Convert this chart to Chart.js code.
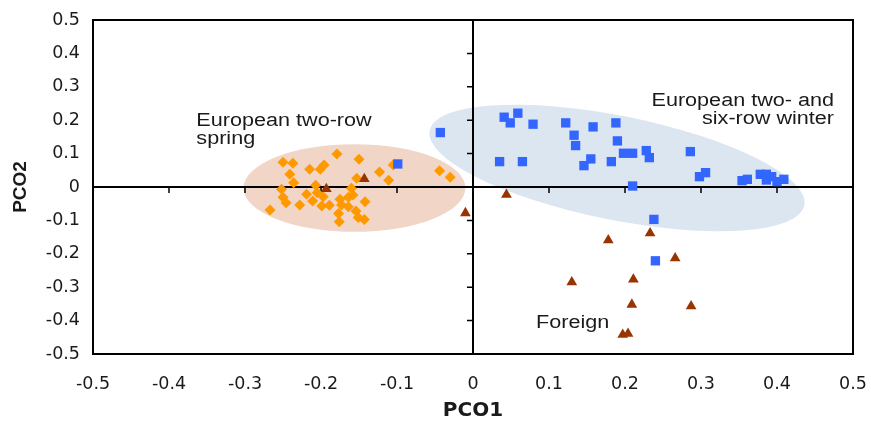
<!DOCTYPE html>
<html>
<head>
<meta charset="utf-8">
<script src="https://cdn.jsdelivr.net/npm/chart.js@4.4.0/dist/chart.umd.min.js"></script>
<style>html,body{margin:0;padding:0;background:#fff}</style>
</head>
<body>
<canvas id="c" width="871" height="421"></canvas>
<script>
// ---- data ----
const xTickLabels = ['-0.5','-0.4','-0.3','-0.2','-0.1','0','0.1','0.2','0.3','0.4','0.5'];
const yTickLabels = ['-0.5','-0.4','-0.3','-0.2','-0.1','0','0.1','0.2','0.3','0.4','0.5'];

const springX = [-0.250,-0.237,-0.179,-0.150,-0.241,-0.215,-0.201,-0.196,-0.236,-0.153,-0.123,-0.111,-0.105,-0.044,-0.030,-0.252,-0.207,-0.205,-0.219,-0.250,-0.246,-0.228,-0.211,-0.197,-0.199,-0.189,-0.175,-0.173,-0.164,-0.160,-0.158,-0.164,-0.142,-0.267,-0.177,-0.176,-0.154,-0.151,-0.143];
const springY = [0.074,0.071,0.099,0.083,0.038,0.053,0.053,0.066,0.013,0.026,0.045,0.020,0.066,0.049,0.029,-0.007,0.005,-0.017,-0.022,-0.031,-0.047,-0.054,-0.042,-0.029,-0.057,-0.055,-0.037,-0.054,-0.059,-0.004,-0.024,-0.031,-0.044,-0.069,-0.079,-0.104,-0.072,-0.091,-0.097];

const winterX = [-0.099,-0.043,0.041,0.059,0.049,0.079,0.122,0.158,0.188,0.133,0.135,0.190,0.035,0.065,0.146,0.155,0.182,0.198,0.210,0.228,0.232,0.210,0.238,0.240,0.286,0.298,0.306,0.354,0.361,0.378,0.386,0.386,0.393,0.400,0.409];
const winterY = [0.069,0.163,0.209,0.221,0.192,0.188,0.192,0.180,0.192,0.155,0.124,0.138,0.076,0.076,0.064,0.084,0.076,0.101,0.101,0.109,0.088,0.003,-0.097,-0.221,0.106,0.031,0.043,0.019,0.023,0.038,0.038,0.021,0.031,0.016,0.023];

const foreignX = [-0.193,-0.143,-0.010,0.044,0.178,0.233,0.266,0.130,0.211,0.209,0.287,0.197,0.204];
const foreignY = [-0.006,0.024,-0.078,-0.023,-0.159,-0.138,-0.213,-0.285,-0.277,-0.352,-0.357,-0.442,-0.439];

// group ellipses (data units)
const springEllipse = {cx:-0.156, cy:-0.003, rx:0.146, ry:0.131};
const winterEllipse = {x1:-0.057, y1:0.169, x2:0.436, y2:-0.055, ry:0.156};

// text annotations (data-unit anchors)
const notes = [
  {text:'European two-row', x:-0.364, y:0.183, align:'left'},
  {text:'spring', x:-0.364, y:0.130, align:'left'},
  {text:'European two- and', x:0.475, y:0.243, align:'right'},
  {text:'six-row winter', x:0.475, y:0.189, align:'right'},
  {text:'Foreign', x:0.083, y:-0.421, align:'left'}
];

const toPts = (xs, ys) => xs.map((v, i) => ({x: v, y: ys[i]}));

const decor = {
  id: 'decor',
  beforeDatasetsDraw(chart) {
    const {ctx, chartArea: a, scales: {x, y}} = chart;
    ctx.save();
    // spring ellipse
    const scx = x.getPixelForValue(springEllipse.cx), scy = y.getPixelForValue(springEllipse.cy);
    const srx = Math.abs(x.getPixelForValue(springEllipse.cx + springEllipse.rx) - scx);
    const sry = Math.abs(y.getPixelForValue(springEllipse.cy + springEllipse.ry) - scy);
    ctx.fillStyle = '#f1d6c8';
    ctx.beginPath(); ctx.ellipse(scx, scy, srx, sry, 0, 0, Math.PI * 2); ctx.fill();
    // winter ellipse (rotated)
    const p1x = x.getPixelForValue(winterEllipse.x1), p1y = y.getPixelForValue(winterEllipse.y1);
    const p2x = x.getPixelForValue(winterEllipse.x2), p2y = y.getPixelForValue(winterEllipse.y2);
    const wcx = (p1x + p2x) / 2, wcy = (p1y + p2y) / 2;
    const wa = Math.hypot(p2x - p1x, p2y - p1y) / 2;
    const wb = Math.abs(y.getPixelForValue(winterEllipse.ry) - y.getPixelForValue(0));
    const ang = Math.atan2(p2y - p1y, p2x - p1x);
    ctx.fillStyle = '#dce6f0';
    ctx.beginPath(); ctx.ellipse(wcx, wcy, wa, wb, ang, 0, Math.PI * 2); ctx.fill();
    // zero axes
    const x0 = x.getPixelForValue(0), y0 = y.getPixelForValue(0);
    ctx.strokeStyle = '#000';
    ctx.lineWidth = 2;
    ctx.beginPath();
    ctx.moveTo(a.left, y0); ctx.lineTo(a.right, y0);
    ctx.moveTo(x0, a.top); ctx.lineTo(x0, a.bottom);
    ctx.stroke();
    ctx.lineWidth = 1.5;
    ctx.beginPath();
    x.ticks.forEach(t => {
      if (Math.abs(t.value) < 1e-9 || Math.abs(Math.abs(t.value) - 0.5) < 1e-9) return;
      const px = x.getPixelForValue(t.value);
      ctx.moveTo(px, y0); ctx.lineTo(px, y0 + 6);
    });
    y.ticks.forEach(t => {
      if (Math.abs(t.value) < 1e-9 || Math.abs(Math.abs(t.value) - 0.5) < 1e-9) return;
      const py = y.getPixelForValue(t.value);
      ctx.moveTo(x0, py); ctx.lineTo(x0 - 6, py);
    });
    ctx.stroke();
    // frame
    ctx.lineWidth = 2;
    ctx.strokeRect(a.left, a.top, a.right - a.left, a.bottom - a.top);
    ctx.restore();
  },
  afterDatasetsDraw(chart) {
    const {ctx, scales: {x, y}} = chart;
    ctx.save();
    ctx.fillStyle = '#1a1a1a';
    ctx.font = "18px 'Liberation Sans', Arial, sans-serif";
    ctx.textBaseline = 'alphabetic';
    notes.forEach(n => {
      ctx.save();
      ctx.translate(x.getPixelForValue(n.x), y.getPixelForValue(n.y));
      ctx.scale(1.2, 1);
      ctx.textAlign = n.align;
      ctx.fillText(n.text, 0, 0);
      ctx.restore();
    });
    ctx.restore();
  }
};

new Chart(document.getElementById('c'), {
  type: 'scatter',
  data: {
    datasets: [
      {label: 'European two-row spring', data: toPts(springX, springY), pointStyle: 'rectRot', pointRadius: 5.5,
       backgroundColor: '#ff9900', borderColor: '#ff9900', pointBorderWidth: 0, order: 2},
      {label: 'European two- and six-row winter', data: toPts(winterX, winterY), pointStyle: 'rect', pointRadius: 6.6,
       backgroundColor: '#3366ff', borderColor: '#3366ff', pointBorderWidth: 0, order: 1},
      {label: 'Foreign', data: toPts(foreignX, foreignY), pointStyle: 'triangle', pointRadius: 6.2,
       backgroundColor: '#993300', borderColor: '#993300', pointBorderWidth: 0, order: 0}
    ]
  },
  options: {
    responsive: false,
    animation: false,
    layout: {padding: {left: 0, right: 18, top: 20, bottom: 0}},
    plugins: {legend: {display: false}, tooltip: {enabled: false}},
    scales: {
      x: {
        type: 'linear', min: -0.5, max: 0.5,
        grid: {display: false, drawTicks: false},
        border: {display: false},
        ticks: {stepSize: 0.1, padding: 20, color: '#1a1a1a',
          font: {family: "'DejaVu Sans', sans-serif", size: 17.5},
          callback: (v, i) => xTickLabels[i]},
        title: {display: true, text: 'PCO1', color: '#1a1a1a', padding: {top: 0, bottom: 0},
          font: {family: "'DejaVu Sans', sans-serif", size: 20, weight: 'bold', lineHeight: 1}},
        afterFit: s => { s.height = 67; s.paddingLeft = 0; s.paddingRight = 0; }
      },
      y: {
        type: 'linear', min: -0.5, max: 0.5,
        grid: {display: false, drawTicks: false},
        border: {display: false},
        ticks: {stepSize: 0.1, padding: 13, color: '#1a1a1a',
          font: {family: "'DejaVu Sans', sans-serif", size: 17.5},
          callback: (v, i) => yTickLabels[i]},
        title: {display: true, text: 'PCO2', color: '#1a1a1a', padding: {top: 11.5, bottom: 0},
          font: {family: "'Liberation Sans', Arial, sans-serif", size: 19, weight: 'bold', lineHeight: 1}},
        afterFit: s => { s.width = 93; s.paddingTop = 0; s.paddingBottom = 0; }
      }
    }
  },
  plugins: [decor]
});
</script>
</body>
</html>
